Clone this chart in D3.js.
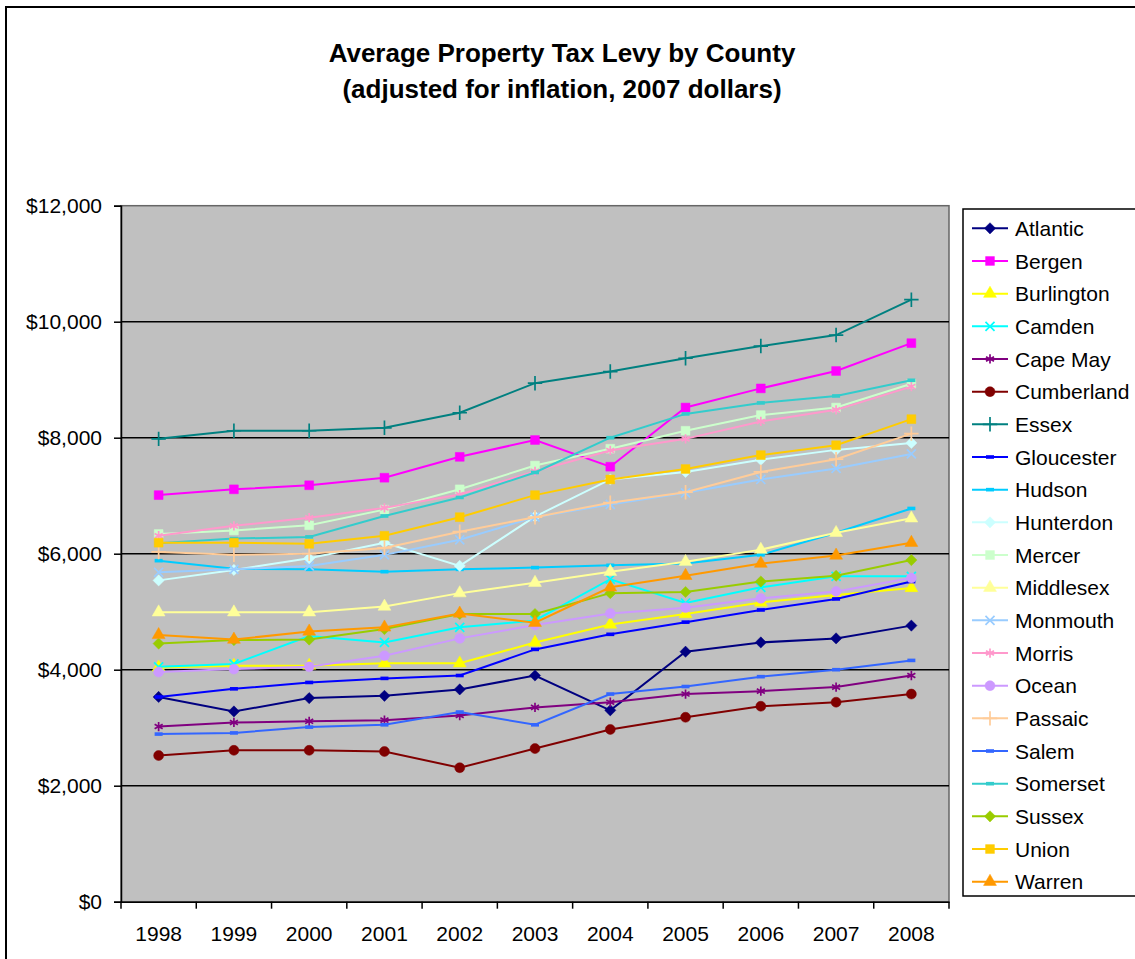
<!DOCTYPE html>
<html>
<head>
<meta charset="utf-8">
<script src="https://cdn.jsdelivr.net/npm/d3@7"></script>
<style>
  body { margin: 0; background: #fff; }
  svg { display: block; font-family: "Liberation Sans", Arial, sans-serif; }
</style>
</head>
<body>
<svg id="chart" width="1135" height="959"></svg>
<script>
// values (2007 dollars)
const years = ["1998", "1999", "2000", "2001", "2002", "2003", "2004", "2005", "2006", "2007", "2008"];
const yTicks = [0, 2000, 4000, 6000, 8000, 10000, 12000];

const atlantic   = [3530, 3280, 3510, 3550, 3660, 3900, 3300, 4310, 4470, 4540, 4760];
const bergen     = [7010, 7110, 7180, 7310, 7670, 7960, 7500, 8520, 8850, 9150, 9630];
const burlington = [4040, 4070, 4070, 4110, 4110, 4470, 4780, 4960, 5160, 5290, 5410];
const camden     = [4050, 4100, 4580, 4470, 4730, 4850, 5560, 5150, 5420, 5610, 5610];
const capeMay    = [3020, 3090, 3110, 3130, 3210, 3350, 3440, 3580, 3630, 3700, 3900];
const cumberland = [2520, 2610, 2610, 2590, 2310, 2640, 2970, 3180, 3370, 3440, 3580];
const essex      = [7980, 8120, 8120, 8170, 8430, 8940, 9140, 9370, 9580, 9770, 10380];
const gloucester = [3530, 3670, 3780, 3850, 3900, 4350, 4610, 4820, 5030, 5220, 5520];
const hudson     = [5880, 5740, 5730, 5690, 5730, 5760, 5800, 5830, 5980, 6360, 6780];
const hunterdon  = [5540, 5720, 5920, 6190, 5790, 6640, 7280, 7410, 7620, 7790, 7910];
const mercer     = [6340, 6400, 6490, 6760, 7110, 7520, 7810, 8120, 8390, 8520, 8930];
const middlesex  = [4990, 4990, 4990, 5090, 5320, 5500, 5690, 5860, 6070, 6360, 6610];
const monmouth   = [5680, 5730, 5790, 5980, 6240, 6630, 6850, 7050, 7280, 7470, 7720];
const morris     = [6310, 6480, 6620, 6790, 7020, 7420, 7780, 7980, 8280, 8480, 8880];
const ocean      = [3960, 4010, 4050, 4240, 4540, 4770, 4970, 5070, 5230, 5350, 5580];
const passaic    = [6030, 5980, 6000, 6100, 6380, 6630, 6880, 7060, 7410, 7630, 8070];
const salem      = [2890, 2910, 3010, 3050, 3270, 3050, 3580, 3710, 3880, 4000, 4160];
const somerset   = [6180, 6260, 6290, 6650, 6970, 7400, 8000, 8410, 8600, 8720, 8990];
const sussex     = [4450, 4510, 4520, 4700, 4960, 4960, 5320, 5340, 5520, 5620, 5890];
const union      = [6190, 6190, 6170, 6310, 6630, 7010, 7280, 7460, 7700, 7870, 8320];
const warren     = [4600, 4520, 4660, 4730, 4970, 4810, 5420, 5620, 5830, 5970, 6190];

const counties = ["Atlantic", "Bergen", "Burlington", "Camden", "Cape May", "Cumberland", "Essex",
  "Gloucester", "Hudson", "Hunterdon", "Mercer", "Middlesex", "Monmouth", "Morris", "Ocean",
  "Passaic", "Salem", "Somerset", "Sussex", "Union", "Warren"];
const seriesValues = [atlantic, bergen, burlington, camden, capeMay, cumberland, essex,
  gloucester, hudson, hunterdon, mercer, middlesex, monmouth, morris, ocean,
  passaic, salem, somerset, sussex, union, warren];

// excel-ish palette + marker per series
const colors = ["#000080", "#ff00ff", "#ffff00", "#00ffff", "#800080", "#800000", "#008080",
  "#0000ff", "#00ccff", "#ccffff", "#ccffcc", "#ffff99", "#99ccff", "#ff99cc", "#cc99ff",
  "#ffcc99", "#3366ff", "#33cccc", "#99cc00", "#ffcc00", "#ff9900"];
const markers = ["diamond", "square", "triangle", "times", "asterisk", "circle", "plus",
  "dash", "dash", "diamond", "square", "triangle", "times", "asterisk", "circle",
  "plus", "dash", "dash", "diamond", "square", "triangle"];

const series = counties.map((name, i) => ({
  name, color: colors[i], marker: markers[i],
  values: seriesValues[i].map((v, j) => ({ year: years[j], value: v }))
}));

const svg = d3.select("#chart");

// chart frame
svg.append("rect")
  .attr("x", 6).attr("y", 7).attr("width", 1140).attr("height", 960)
  .attr("fill", "#fff").attr("stroke", "#000").attr("stroke-width", 2);

// title
const title = svg.append("text")
  .attr("text-anchor", "middle")
  .attr("font-weight", "bold")
  .attr("font-size", 26);
title.append("tspan").attr("x", 562).attr("y", 62).text("Average Property Tax Levy by County");
title.append("tspan").attr("x", 562).attr("y", 98).text("(adjusted for inflation, 2007 dollars)");

const plot = { left: 121, right: 949, top: 205.7, bottom: 901.7 };

const x = d3.scaleBand().domain(years).range([plot.left, plot.right]).padding(0);
const y = d3.scaleLinear().domain([0, 12000]).range([plot.bottom, plot.top]);

svg.append("rect")
  .attr("x", plot.left).attr("y", plot.top)
  .attr("width", plot.right - plot.left).attr("height", plot.bottom - plot.top)
  .attr("fill", "#c0c0c0").attr("stroke", "#666").attr("stroke-width", 1.5);

// gridlines
svg.append("g")
  .selectAll("line")
  .data(yTicks.filter(t => t > 0 && t < 12000))
  .join("line")
  .attr("x1", plot.left).attr("x2", plot.right)
  .attr("y1", d => y(d)).attr("y2", d => y(d))
  .attr("stroke", "#000").attr("stroke-width", 1.6);

// y axis
const yAxis = svg.append("g")
  .attr("transform", `translate(${plot.left},0)`)
  .call(d3.axisLeft(y).tickValues(yTicks).tickSize(7).tickPadding(12).tickFormat(d3.format("$,")));
yAxis.select(".domain").attr("stroke", "#000").attr("stroke-width", 1.5);
yAxis.selectAll(".tick line").attr("stroke", "#000").attr("stroke-width", 1.5);
yAxis.selectAll("text").attr("font-size", 21).attr("fill", "#000").attr("font-family", null);

// x axis: ticks sit on the category boundaries
const xAxis = svg.append("g")
  .attr("transform", `translate(0,${plot.bottom})`)
  .call(d3.axisBottom(x).tickSize(0).tickPadding(24));
xAxis.select(".domain").attr("stroke", "#000").attr("stroke-width", 1.5);
xAxis.selectAll("text").attr("font-size", 21).attr("fill", "#000").attr("font-family", null);
xAxis.append("g")
  .selectAll("line")
  .data(years.concat(["end"]))
  .join("line")
  .attr("x1", (d, i) => plot.left + i * x.step())
  .attr("x2", (d, i) => plot.left + i * x.step())
  .attr("y1", 0).attr("y2", 7)
  .attr("stroke", "#000").attr("stroke-width", 1.5);

function symbolFor(kind) {
  switch (kind) {
    case "diamond":  return { type: d3.symbolDiamond2, size: 80, fill: true };
    case "square":   return { type: d3.symbolSquare, size: 78, fill: true };
    case "triangle": return { type: d3.symbolTriangle, size: 72, fill: true };
    case "circle":   return { type: d3.symbolCircle, size: 78, fill: true };
    case "times":    return { type: d3.symbolTimes, size: 55, fill: false };
    case "asterisk": return { type: d3.symbolAsterisk, size: 60, fill: false };
    case "plus":     return { type: d3.symbolPlus, size: 70, fill: false };
    default:         return null;
  }
}

function drawMarker(g, s, cx, cy) {
  if (s.marker === "dash") {
    g.append("rect")
      .attr("x", cx - 4).attr("y", cy - 1.8).attr("width", 8).attr("height", 3.6)
      .attr("fill", s.color);
    return;
  }
  const m = symbolFor(s.marker);
  g.append("path")
    .attr("transform", `translate(${cx},${cy})`)
    .attr("d", d3.symbol(m.type, m.size)())
    .attr("fill", m.fill ? s.color : "none")
    .attr("stroke", s.color)
    .attr("stroke-width", m.fill ? 0.5 : 1.7);
}

const line = d3.line()
  .x(d => x(d.year) + x.bandwidth() / 2)
  .y(d => y(d.value));

const seriesG = svg.append("g");
series.forEach(s => {
  const g = seriesG.append("g");
  g.append("path")
    .datum(s.values)
    .attr("d", line)
    .attr("fill", "none")
    .attr("stroke", s.color)
    .attr("stroke-width", 2);
  s.values.forEach(d => drawMarker(g, s, x(d.year) + x.bandwidth() / 2, y(d.value)));
});

// legend
const legend = svg.append("g");
legend.append("rect")
  .attr("x", 963).attr("y", 209).attr("width", 190).attr("height", 687)
  .attr("fill", "#fff").attr("stroke", "#000").attr("stroke-width", 1.5);

const ly = d3.scalePoint().domain(counties).range([228.3, 881.7]);
series.forEach(s => {
  const cy = ly(s.name);
  const g = legend.append("g");
  g.append("line")
    .attr("x1", 972).attr("x2", 1008).attr("y1", cy).attr("y2", cy)
    .attr("stroke", s.color).attr("stroke-width", 2);
  drawMarker(g, s, 990, cy);
  g.append("text")
    .attr("x", 1015).attr("y", cy).attr("dy", "0.36em")
    .attr("font-size", 21)
    .text(s.name);
});
</script>
</body>
</html>
